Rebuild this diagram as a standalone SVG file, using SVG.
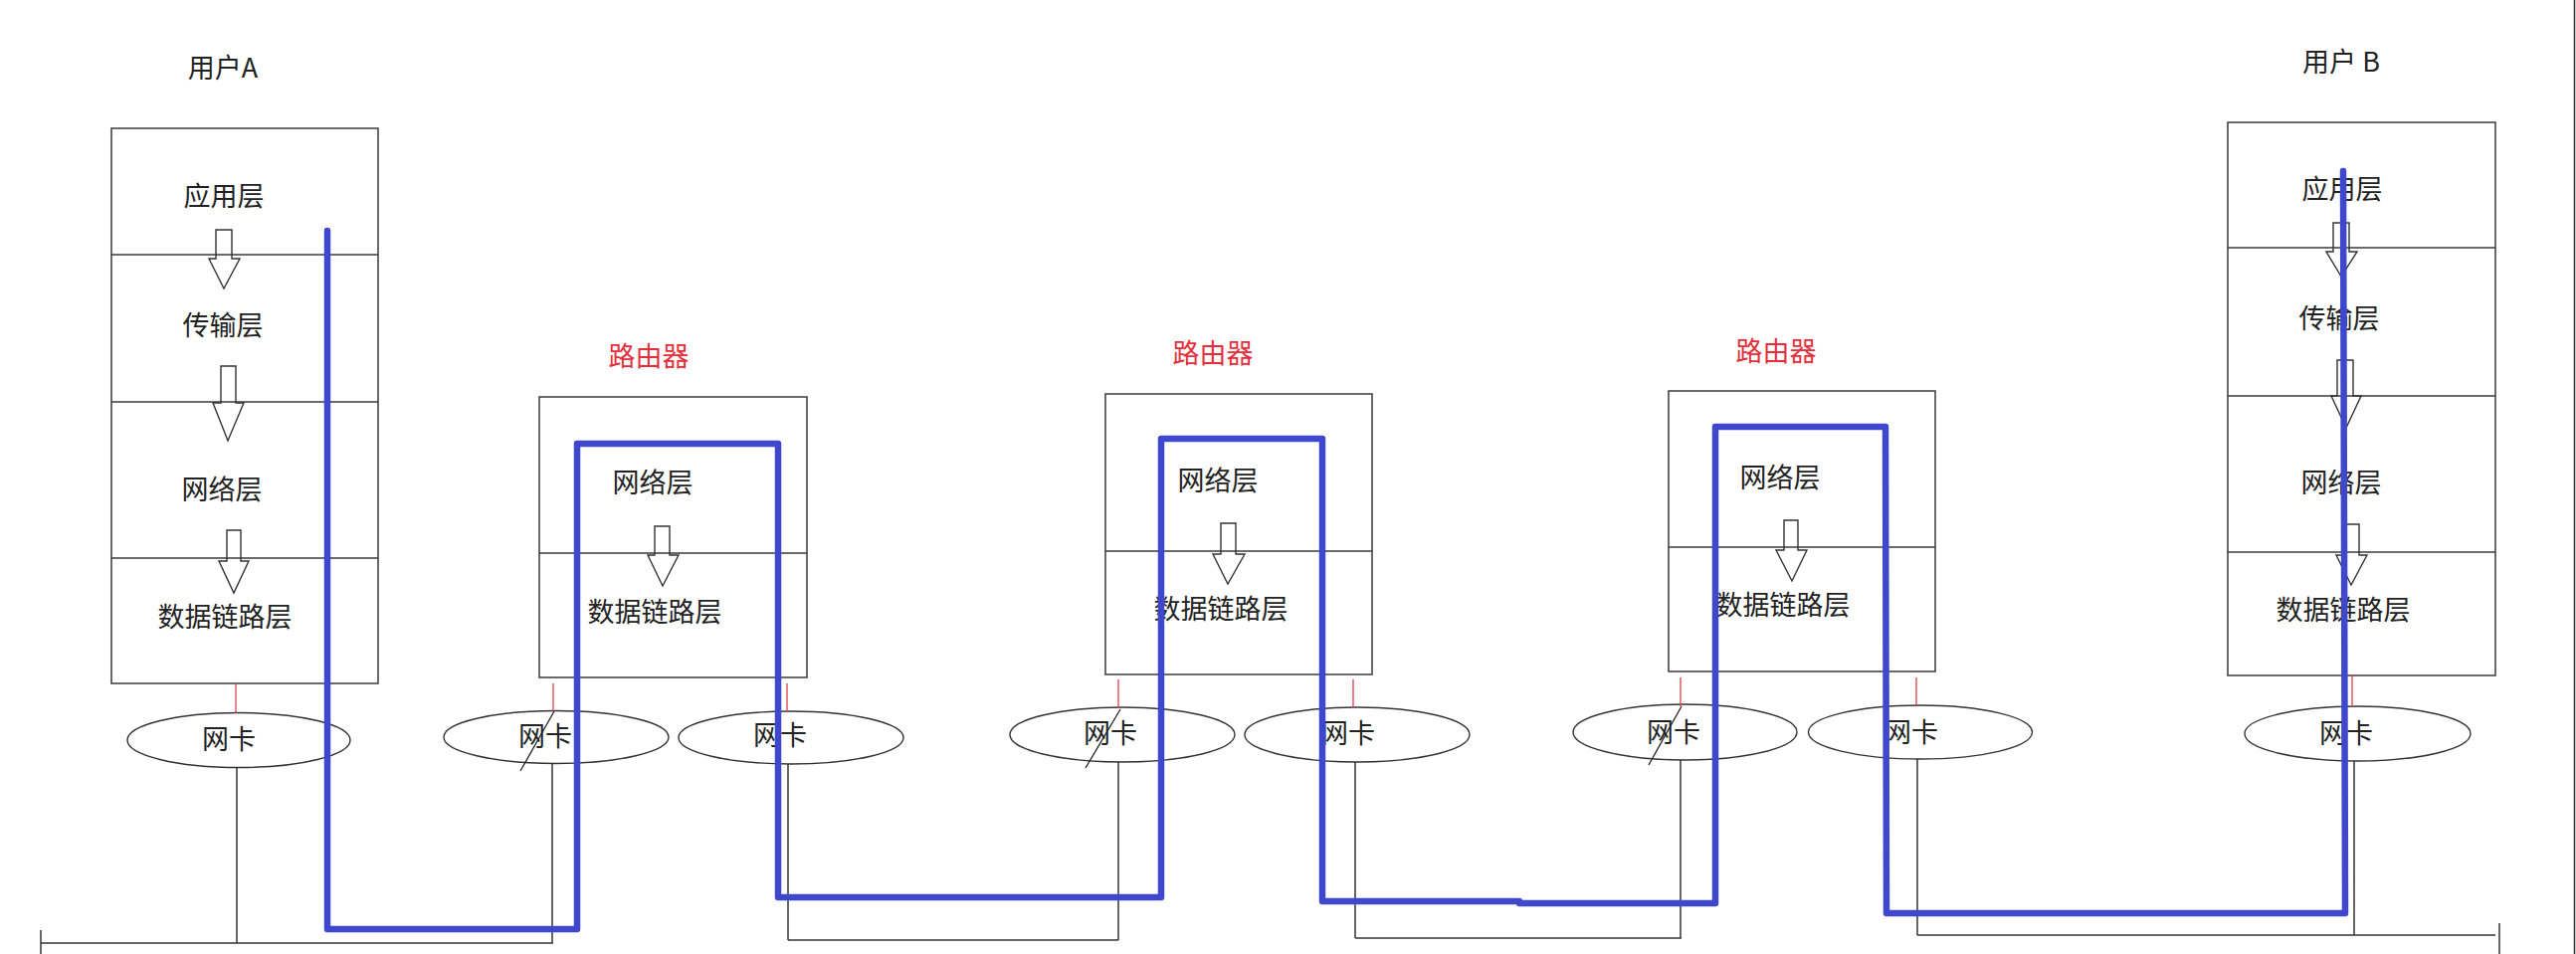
<svg xmlns="http://www.w3.org/2000/svg" width="2589" height="959" viewBox="0 0 2589 959">
<style>
.bg{fill:#ffffff}
.box{fill:none;stroke:#3a3a3a;stroke-width:1.5}
.div{stroke:#3a3a3a;stroke-width:1.5}
.t{font-family:"Noto Sans CJK SC","Noto Sans",sans-serif;font-size:27px;fill:#222;text-anchor:middle}
.rt{fill:#e3303c}
.nic{fill:none;stroke:#333;stroke-width:1.4}
.arr{fill:none;stroke:#333;stroke-width:1.4;stroke-linejoin:miter}
.red{stroke:#d8404c;stroke-width:1.3}
.wire{stroke:#333;stroke-width:1.5;fill:none}
.slash{stroke:#222;stroke-width:1.3}
.flow{fill:none;stroke:#3f48cc;stroke-width:6.5;stroke-linejoin:round;stroke-linecap:round}
</style>
<rect class="bg" x="0" y="0" width="2589" height="959"/>

<g id="userA">
  <text class="t" x="224" y="78">用户A</text>
  <rect class="box" x="112" y="129" width="268" height="558"/>
  <line class="div" x1="112" y1="256" x2="380" y2="256"/>
  <line class="div" x1="112" y1="404" x2="380" y2="404"/>
  <line class="div" x1="112" y1="561" x2="380" y2="561"/>
  <text class="t" x="225" y="207">应用层</text>
  <text class="t" x="224" y="337">传输层</text>
  <text class="t" x="223" y="502">网络层</text>
  <text class="t" x="226" y="630">数据链路层</text>
  <polygon class="arr" points="217,231 233,231 233,260 241,260 225,290 210,260 217,260"/>
  <polygon class="arr" points="222,368 237,368 237,405 245,405 229,443 214,405 222,405"/>
  <polygon class="arr" points="228,533 242,533 242,564 250,564 235,596 220,564 228,564"/>
</g>

<g id="router1">
  <text class="t rt" x="652" y="368">路由器</text>
  <rect class="box" x="542" y="399" width="269" height="282"/>
  <line class="div" x1="542" y1="556" x2="811" y2="556"/>
  <text class="t" x="656" y="495">网络层</text>
  <text class="t" x="658" y="625">数据链路层</text>
  <polygon class="arr" points="658,529 673,529 673,558 682,558 666,589 651,558 658,558"/>
</g>

<g id="router2">
  <text class="t rt" x="1219" y="365">路由器</text>
  <rect class="box" x="1111" y="396" width="268" height="282"/>
  <line class="div" x1="1111" y1="554" x2="1379" y2="554"/>
  <text class="t" x="1224" y="493">网络层</text>
  <text class="t" x="1227" y="622">数据链路层</text>
  <polygon class="arr" points="1227,526 1242,526 1242,557 1251,557 1234,587 1219,557 1227,557"/>
</g>

<g id="router3">
  <text class="t rt" x="1785" y="363">路由器</text>
  <rect class="box" x="1677" y="393" width="268" height="282"/>
  <line class="div" x1="1677" y1="550" x2="1945" y2="550"/>
  <text class="t" x="1789" y="490">网络层</text>
  <text class="t" x="1792" y="618">数据链路层</text>
  <polygon class="arr" points="1793,523 1807,523 1807,553 1816,553 1801,584 1785,553 1793,553"/>
</g>

<g id="userB">
  <text class="t" x="2353" y="72">用户 B</text>
  <rect class="box" x="2239" y="123" width="269" height="556"/>
  <line class="div" x1="2239" y1="249" x2="2508" y2="249"/>
  <line class="div" x1="2239" y1="398" x2="2508" y2="398"/>
  <line class="div" x1="2239" y1="555" x2="2508" y2="555"/>
  <text class="t" x="2354" y="200">应用层</text>
  <text class="t" x="2351" y="330">传输层</text>
  <text class="t" x="2353" y="495">网络层</text>
  <text class="t" x="2355" y="623">数据链路层</text>
  <polygon class="arr" points="2345,224 2361,224 2361,253 2369,253 2353,278 2338,253 2345,253"/>
  <polygon class="arr" points="2349,362 2365,362 2365,398 2373,398 2358,430 2343,398 2349,398"/>
  <polygon class="arr" points="2358,527 2371,527 2371,558 2379,558 2363,588 2348,558 2358,558"/>
</g>

<g id="nicA"><ellipse class="nic" cx="240" cy="744" rx="112" ry="27.5"/><text class="t" x="230" y="753">网卡</text></g>
<g id="nicR1L"><ellipse class="nic" cx="559" cy="741" rx="113" ry="26.5"/><text class="t" x="548" y="750">网卡</text></g>
<g id="nicR1R"><ellipse class="nic" cx="795" cy="741.5" rx="113" ry="26.5"/><text class="t" x="784" y="749">网卡</text></g>
<g id="nicR2L"><ellipse class="nic" cx="1128" cy="738.5" rx="113" ry="27.5"/><text class="t" x="1116" y="747">网卡</text></g>
<g id="nicR2R"><ellipse class="nic" cx="1364" cy="738.5" rx="113" ry="27.5"/><text class="t" x="1355" y="747">网卡</text></g>
<g id="nicR3L"><ellipse class="nic" cx="1693.5" cy="736" rx="112.5" ry="28"/><text class="t" x="1682" y="746">网卡</text></g>
<g id="nicR3R"><ellipse class="nic" cx="1930" cy="736" rx="112.5" ry="27"/><text class="t" x="1921" y="746">网卡</text></g>
<g id="nicB"><ellipse class="nic" cx="2369.5" cy="737.5" rx="113.5" ry="27.5"/><text class="t" x="2358" y="747">网卡</text></g>

<g id="connectors">
  <line class="red" x1="237" y1="687" x2="237" y2="717"/>
  <line class="red" x1="556" y1="687" x2="556" y2="715"/>
  <line class="red" x1="791" y1="687" x2="791" y2="716"/>
  <line class="red" x1="1124" y1="683" x2="1124" y2="712"/>
  <line class="red" x1="1360" y1="683" x2="1360" y2="712"/>
  <line class="red" x1="1689" y1="681" x2="1689" y2="710"/>
  <line class="red" x1="1926" y1="681" x2="1926" y2="710"/>
  <line class="red" x1="2364" y1="679" x2="2364" y2="711"/>

  <line class="wire" x1="238" y1="772" x2="238" y2="948"/>
  <line class="wire" x1="555" y1="767" x2="555" y2="948"/>
  <line class="wire" x1="792" y1="768" x2="792" y2="945"/>
  <line class="wire" x1="1124" y1="766" x2="1124" y2="945"/>
  <line class="wire" x1="1362" y1="766" x2="1362" y2="943"/>
  <line class="wire" x1="1689" y1="764" x2="1689" y2="943"/>
  <line class="wire" x1="1927" y1="763" x2="1927" y2="940"/>
  <line class="wire" x1="2366" y1="765" x2="2366" y2="940"/>

  <line class="wire" x1="41" y1="948" x2="556" y2="948"/>
  <line class="wire" x1="41" y1="935" x2="41" y2="959"/>
  <line class="wire" x1="792" y1="945" x2="1124" y2="945"/>
  <line class="wire" x1="1362" y1="943" x2="1690" y2="943"/>
  <line class="wire" x1="1927" y1="940" x2="2508" y2="940"/>
  <line class="wire" x1="2512" y1="928" x2="2512" y2="959"/>
  <line class="wire" x1="2587.5" y1="0" x2="2587.5" y2="959"/>

  <line class="slash" x1="557" y1="715" x2="523" y2="775"/>
  <line class="slash" x1="1126" y1="713" x2="1091" y2="772"/>
  <line class="slash" x1="1690" y1="710" x2="1657" y2="769"/>

  <path class="flow" d="M329,232 L329,934 L580,934 L580,446 L782,446 L782,902 L1167,902 L1167,441 L1329,441 L1329,906 L1527,906 L1527,908 L1724,908 L1724,429 L1895,429 L1896,918 L2357,918 L2355,172"/>
</g>
</svg>
